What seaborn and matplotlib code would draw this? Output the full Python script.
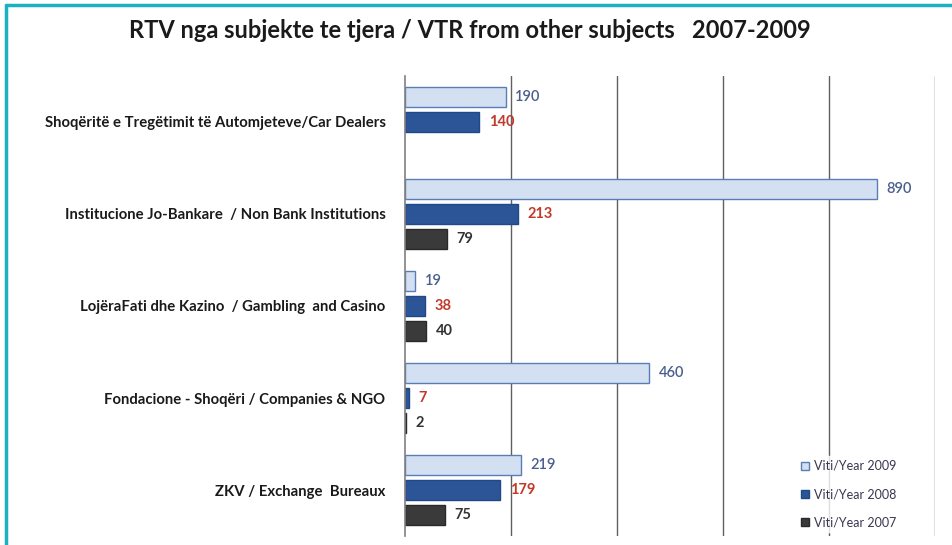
import numpy as np
import pandas as pd
import matplotlib
matplotlib.use("Agg")
import matplotlib.pyplot as plt
from matplotlib.lines import Line2D
import seaborn as sns

# data
categories = [
    "Shoqëritë e Tregëtimit të Automjeteve/Car Dealers",
    "Institucione Jo-Bankare  / Non Bank Institutions",
    "LojëraFati dhe Kazino  / Gambling  and Casino",
    "Fondacione - Shoqëri / Companies & NGO",
    "ZKV / Exchange  Bureaux",
]
years = ["Viti/Year 2009", "Viti/Year 2008", "Viti/Year 2007"]
values_2009 = [190, 890, 19, 460, 219]
values_2008 = [140, 213, 38, 7, 179]
values_2007 = [np.nan, 79, 40, 2, 75]

title = "RTV nga subjekte te tjera / VTR from other subjects   2007-2009"

# long table for seaborn
df = pd.DataFrame({
    "category": categories * 3,
    "year": [y for y in years for _ in categories],
    "value": values_2009 + values_2008 + values_2007,
})

# styles
face_colors = ["#d3e0f2", "#2b5597", "#3a3a3a"]
edge_colors = ["#5a7db5", "#1f4a86", "#2a2a2a"]
label_colors = ["#4a5f8f", "#c0392b", "#333333"]
label_weights = ["semibold", "bold", "bold"]

sns.set_style("white")
plt.rcParams["font.family"] = ["Lato", "DejaVu Sans"]

fig = plt.figure(figsize=(9.53, 5.45), dpi=100)
ax = fig.add_axes([405 / 953, 1 - 536 / 545, (935 - 405) / 953, (536 - 76) / 545])

sns.barplot(data=df, y="category", x="value", hue="year", hue_order=years,
            order=categories, orient="h", width=0.82, gap=0.22,
            palette=face_colors, legend=False, ax=ax)

for i, cont in enumerate(ax.containers):
    for patch in cont:
        patch.set_facecolor(face_colors[i])
        patch.set_edgecolor(edge_colors[i])
        patch.set_linewidth(1.0)
    labels = [f"{int(v)}" if np.isfinite(v) else "" for v in cont.datavalues]
    ax.bar_label(cont, labels=labels, padding=7, color=label_colors[i],
                 fontsize=10.5, fontweight=label_weights[i])

ax.set_xlim(0, 1000)
ax.set_ylim(len(categories) - 0.5, -0.5)
ax.set_xticks([200, 400, 600, 800, 1000])
ax.set_xticklabels([])
ax.tick_params(axis="x", length=0)
ax.grid(axis="x", color="#606060", linewidth=1.0)
ax.set_axisbelow(True)
ax.set_xlabel("")
ax.set_ylabel("")

# category labels, boundary ticks on the left spine
ax.set_yticks(range(len(categories)))
ax.set_yticklabels(categories, fontsize=10.7, fontweight="bold", color="#1a1a1a")
ax.tick_params(axis="y", which="major", length=0, pad=14)
ax.set_yticks(np.arange(len(categories) + 1) - 0.5, minor=True)
ax.tick_params(axis="y", which="minor", length=4, color="#808080", width=1)

for side in ["top", "right", "bottom"]:
    ax.spines[side].set_visible(False)
ax.spines["left"].set_color("#808080")
ax.spines["left"].set_linewidth(1.2)

# legend
handles = [Line2D([], [], marker="s", linestyle="", markersize=6,
                  markerfacecolor=face_colors[i], markeredgecolor=edge_colors[i])
           for i in range(3)]
leg = fig.legend(handles, years, loc="upper left", bbox_to_anchor=(790 / 953, 1 - 450 / 545),
                 frameon=True, fontsize=9, handlelength=0.8, handletextpad=0.3,
                 labelspacing=1.3, borderpad=0.3, facecolor="white", edgecolor="white")
for t in leg.get_texts():
    t.set_color("#3b3550")

fig.text(470 / 953, 1 - 31 / 545, title, ha="center", va="center",
         fontsize=17, fontweight="bold", color="#1a1a1a")

# teal frame (left and top edges visible)
frame_color = "#1ab2c3"
fig.add_artist(Line2D([6 / 953, 6 / 953], [0, 1 - 5 / 545], color=frame_color, linewidth=2.5,
                      transform=fig.transFigure))
fig.add_artist(Line2D([6 / 953, 1], [1 - 5 / 545, 1 - 5 / 545], color=frame_color, linewidth=2.5,
                      transform=fig.transFigure))

fig.savefig("out.png", dpi=100)
